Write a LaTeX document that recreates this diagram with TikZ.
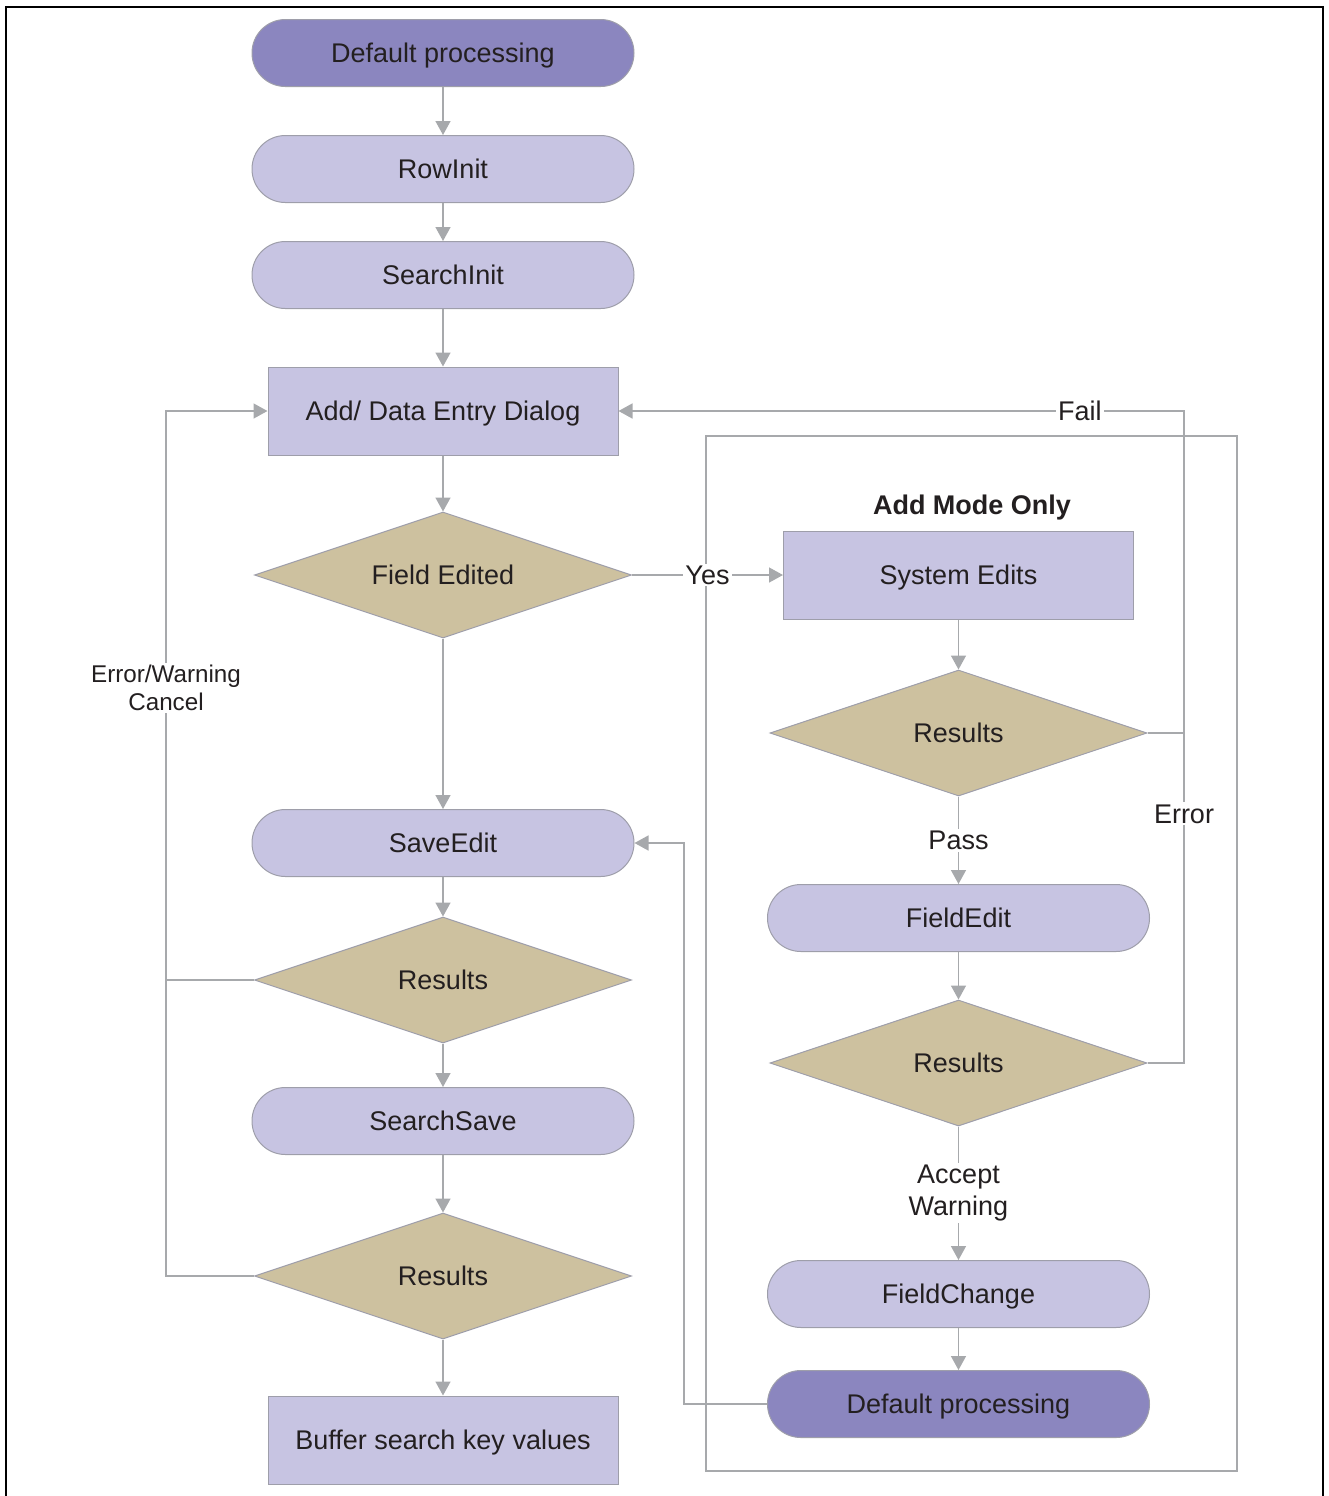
\documentclass[tikz,border=0pt]{standalone}
\usepackage{fontspec}
\setmainfont{Liberation Sans}
\usetikzlibrary{shapes.geometric,arrows.meta}
\definecolor{lineg}{HTML}{A7A9AC}
\definecolor{edgeg}{HTML}{9E9EAA}
\definecolor{lav}{HTML}{C7C4E2}
\definecolor{lavdark}{HTML}{8B86BF}
\definecolor{sand}{HTML}{CDC19F}
\definecolor{ink}{HTML}{231F20}
\tikzset{
  capbox/.style={text height=9.7pt, text depth=0pt},
  term/.style={rectangle, rounded corners=16.7pt, draw=edgeg, line width=0.5pt,
    fill=lav, minimum width=191pt, minimum height=33.5pt, inner sep=0pt, capbox},
  termdark/.style={term, fill=lavdark},
  proc/.style={rectangle, draw=edgeg, line width=0.5pt, fill=lav,
    minimum width=175pt, minimum height=44pt, inner sep=0pt, capbox},
  dec/.style={diamond, aspect=3, draw=edgeg, line width=0.5pt, fill=sand,
    minimum width=188.5pt, minimum height=63pt, inner sep=0pt, capbox},
  flow/.style={draw=lineg, line width=0.75pt, -{Triangle[length=7pt,width=7.5pt]}},
  link/.style={draw=lineg, line width=0.75pt},
  tag/.style={fill=white, inner sep=1pt, align=center},
  frame/.style={rectangle, draw=lineg, line width=0.6pt,
    minimum width=265.5pt, minimum height=517.5pt, inner sep=0pt},
}
\begin{document}
\begin{tikzpicture}[x=0.5pt, y=-0.5pt, font=\fontsize{13.5}{15.5}\selectfont, text=ink]
\useasboundingbox (0,0) rectangle (1329,1496);
\clip (0,0) rectangle (1329,1496);
\draw[black, line width=1pt] (6,7) rectangle (1323,1520);

% add-mode frame
\node[frame] (addmode) at (971.5,953.5) {};
\node[capbox, font=\fontsize{13.5}{15.5}\selectfont\bfseries] (addlabel) at (972,505) {Add Mode Only};

% left column
\node[termdark] (dp1) at (443,53) {Default processing};
\node[term] (rowinit) at (443,169) {RowInit};
\node[term] (searchinit) at (443,275) {SearchInit};
\node[proc] (adddlg) at (443,411) {Add/ Data Entry Dialog};
\node[dec] (fieldedited) at (443,575) {Field Edited};
\node[term] (saveedit) at (443,843) {SaveEdit};
\node[dec] (res1) at (443,980) {Results};
\node[term] (searchsave) at (443,1121) {SearchSave};
\node[dec] (res2) at (443,1276) {Results};
\node[proc] (buffer) at (443,1440) {Buffer search key values};

% right column
\node[proc] (sysedits) at (958.5,575) {System Edits};
\node[dec] (res3) at (958.5,733) {Results};
\node[term] (fieldedit) at (958.5,918) {FieldEdit};
\node[dec] (res4) at (958.5,1063) {Results};
\node[term] (fieldchange) at (958.5,1294) {FieldChange};
\node[termdark] (dp2) at (958.5,1404) {Default processing};

% bend points
\coordinate (retx) at (684,1404);
\coordinate (failx) at (1184,733);
\coordinate (failtop) at (1184,411);
\coordinate (errbot) at (1184,1063);
\coordinate (lx1) at (166,980);
\coordinate (lx2) at (166,1276);
\coordinate (lx3) at (166,411);

% main flow
\draw[flow] (dp1) -- (rowinit);
\draw[flow] (rowinit) -- (searchinit);
\draw[flow] (searchinit) -- (adddlg);
\draw[flow] (adddlg) -- (fieldedited);
\draw[flow] (fieldedited) -- (saveedit);
\draw[flow] (saveedit) -- (res1);
\draw[flow] (res1) -- (searchsave);
\draw[flow] (searchsave) -- (res2);
\draw[flow] (res2) -- (buffer);

% add-mode flow
\draw[flow] (fieldedited.east) -- node[tag] {Yes} (sysedits.west);
\draw[flow] (sysedits) -- (res3);
\draw[flow] (res3) -- node[tag] {Pass} (fieldedit);
\draw[flow] (fieldedit) -- (res4);
\draw[flow] (res4) -- node[tag, font=\fontsize{13.5}{16}\selectfont] {Accept\\Warning} (fieldchange);
\draw[flow] (fieldchange) -- (dp2);
\draw[flow] (dp2.west) -- (retx) |- (saveedit.east);

% failure and error returns
\draw[flow] (res3.east) -- (failx) -- (failtop) -- node[tag, pos=0.184] {Fail} (adddlg.east);
\draw[link] (res4.east) -- (errbot) -- node[tag, pos=0.755] {Error} (failx);
\draw[link] (res1.west) -- (lx1);
\draw[flow] (res2.west) -- (lx2) -- node[tag, pos=0.68, font=\fontsize{12.1}{14}\selectfont] {Error/Warning\\Cancel} (lx3) -- (adddlg.west);
\end{tikzpicture}
\end{document}
